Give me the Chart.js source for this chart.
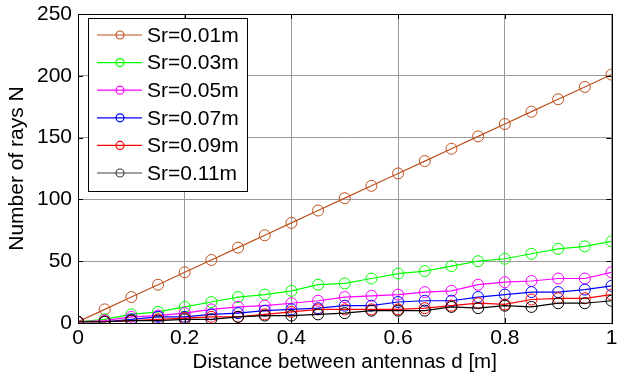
<!DOCTYPE html>
<html>
<head>
<meta charset="utf-8">
<script src="https://cdn.jsdelivr.net/npm/chart.js@4/dist/chart.umd.min.js"></script>
<style>
  html, body { margin: 0; padding: 0; background: #fff; }
  #c { display: block; }
</style>
</head>
<body>
<canvas id="c" width="618" height="381"></canvas>
<script>
// ---- data ----
const distances = [0, 0.05, 0.1, 0.15, 0.2, 0.25, 0.3, 0.35, 0.4, 0.45, 0.5, 0.55, 0.6, 0.65, 0.7, 0.75, 0.8, 0.85, 0.9, 0.95, 1];
const seriesLabels = ['Sr=0.01m', 'Sr=0.03m', 'Sr=0.05m', 'Sr=0.07m', 'Sr=0.09m', 'Sr=0.11m'];
const sr001 = [1, 11, 21, 31, 41, 51, 61, 71, 81, 91, 101, 111, 121, 131, 141, 151, 161, 171, 181, 191, 201];
const sr003 = [1, 3, 7, 9, 13, 17, 21, 23, 26, 31, 32, 36, 40, 42, 46, 50, 52, 56, 60, 62, 66];
const sr005 = [1, 2, 5, 6, 8, 11, 13, 14, 16, 18, 21, 22, 23, 25, 26, 31, 33, 34, 36, 36, 41];
const sr007 = [1, 1, 3, 5, 5, 7, 8, 10, 11, 12, 14, 14, 17, 18, 18, 21, 23, 25, 25, 27, 30];
const sr009 = [1, 1, 2, 3, 4, 5, 5, 7, 9, 11, 11, 11, 11, 12, 14, 16, 15, 19, 20, 20, 23];
const sr011 = [1, 1, 2, 2, 3, 3, 5, 6, 6, 7, 8, 10, 10, 10, 13, 12, 14, 13, 16, 16, 18];
const seriesValues = [sr001, sr003, sr005, sr007, sr009, sr011];
const seriesColors = ['rgb(190,80,30)', '#00ff00', '#ff00ff', '#0000ff', '#ff0000', '#000000'];
const xTickLabels = ['0', '0.2', '0.4', '0.6', '0.8', '1'];
const yTickLabels = ['0', '50', '100', '150', '200', '250'];
const xTitle = 'Distance between antennas d [m]';
const yTitle = 'Number of rays N';

const FONT = "'Liberation Sans', Arial, sans-serif";

const datasets = seriesValues.map((vals, i) => ({
  label: seriesLabels[i],
  data: vals.map((v, j) => ({ x: distances[j], y: v })),
  borderColor: seriesColors[i],
  backgroundColor: 'rgba(0,0,0,0)',
  pointBackgroundColor: 'rgba(0,0,0,0)',
  pointBorderColor: seriesColors[i],
  pointRadius: 5.5,
  pointBorderWidth: 1,
  borderWidth: 1.2,
  tension: 0,
  order: seriesValues.length - i
}));

const framePlugin = {
  id: 'frame',
  afterDatasetsDraw(chart) {
    const { ctx, chartArea: a, scales } = chart;
    ctx.save();
    ctx.strokeStyle = '#000';
    ctx.lineWidth = 1;
    // inward ticks
    const tl = 5;
    ctx.beginPath();
    scales.x.ticks.forEach(t => {
      const px = Math.round(scales.x.getPixelForValue(t.value)) + 0.5;
      ctx.moveTo(px, a.bottom); ctx.lineTo(px, a.bottom - tl);
      ctx.moveTo(px, a.top); ctx.lineTo(px, a.top + tl);
    });
    scales.y.ticks.forEach(t => {
      const py = Math.round(scales.y.getPixelForValue(t.value)) + 0.5;
      ctx.moveTo(a.left, py); ctx.lineTo(a.left + tl, py);
      ctx.moveTo(a.right, py); ctx.lineTo(a.right - tl, py);
    });
    ctx.stroke();
    // box
    ctx.strokeRect(Math.round(a.left) + 0.5, Math.round(a.top) + 0.5,
                   Math.round(a.right - a.left), Math.round(a.bottom - a.top));
    // legend
    const lx = 88.5, ly = 18.5, lw = 159, lh = 173;
    ctx.fillStyle = '#fff';
    ctx.fillRect(lx, ly, lw, lh);
    ctx.strokeRect(lx, ly, lw, lh);
    ctx.font = '21px ' + FONT;
    ctx.textBaseline = 'middle';
    ctx.textAlign = 'left';
    chart.data.datasets.forEach((ds, i) => {
      const cy = 35 + i * 27.6;
      ctx.strokeStyle = i === 5 ? '#444' : ds.borderColor;
      ctx.lineWidth = 1.2;
      ctx.beginPath();
      ctx.moveTo(97, cy); ctx.lineTo(142, cy);
      ctx.stroke();
      ctx.beginPath();
      ctx.arc(120, cy, 4, 0, Math.PI * 2);
      ctx.stroke();
      ctx.fillStyle = '#000';
      ctx.fillText(ds.label, 147, cy + 1);
    });
    ctx.restore();
  }
};

new Chart(document.getElementById('c'), {
  type: 'line',
  data: { datasets },
  options: {
    responsive: false,
    animation: false,
    devicePixelRatio: 1,
    layout: { padding: { left: 0, right: 3, top: 14, bottom: 0 } },
    plugins: { legend: { display: false }, tooltip: { enabled: false } },
    scales: {
      x: {
        type: 'linear', min: 0, max: 1,
        ticks: {
          stepSize: 0.2, padding: 3, color: '#000',
          font: { family: FONT, size: 21 },
          maxRotation: 0,
          callback: (v) => xTickLabels[Math.round(v / 0.2)]
        },
        grid: { color: '#999999', lineWidth: 1, drawTicks: false },
        border: { color: '#000', width: 1 },
        title: { display: true, text: xTitle, color: '#000', font: { family: FONT, size: 20.5 }, padding: { top: 0, bottom: 6 } },
        afterFit(s) { s.height = 58; s.paddingLeft = 0; s.paddingRight = 0; }
      },
      y: {
        type: 'linear', min: 0, max: 250,
        ticks: {
          stepSize: 50, padding: 6, color: '#000',
          font: { family: FONT, size: 21 },
          callback: (v) => yTickLabels[Math.round(v / 50)]
        },
        grid: { color: '#999999', lineWidth: 1, drawTicks: false },
        border: { color: '#000', width: 1 },
        title: { display: true, text: yTitle, color: '#000', font: { family: FONT, size: 21 }, padding: { top: 5, bottom: 0 } },
        afterFit(s) { s.width = 78; s.paddingTop = 0; s.paddingBottom = 0; }
      }
    }
  },
  plugins: [framePlugin]
});
</script>
</body>
</html>
